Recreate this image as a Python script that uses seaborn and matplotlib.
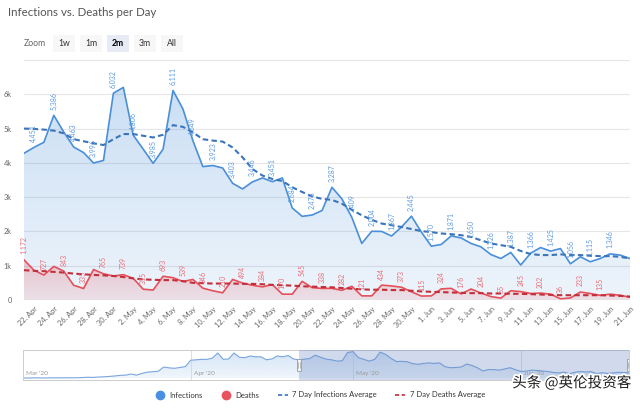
import matplotlib
matplotlib.use("Agg")
import matplotlib.colors as mcolors
import matplotlib.dates as mdates
import matplotlib.patheffects as pe
import matplotlib.pyplot as plt
import numpy as np
import pandas as pd
import seaborn as sns
from matplotlib.lines import Line2D
from matplotlib.patches import Rectangle

# Daily values, 21 Apr - 21 Jun 2020
start_date = "2020-04-21"
infections = [4280, 4451, 4600, 5386, 4900, 4463, 4300, 3996, 4070, 6032,
              6201, 4806, 4400, 3985, 4400, 6111, 5570, 4649, 3890, 3923,
              3850, 3403, 3240, 3446, 3560, 3451, 3560, 2684, 2440, 2478,
              2610, 3287, 2950, 2409, 1650, 2004, 2000, 1867, 2130, 2445,
              1980, 1570, 1620, 1871, 1810, 1650, 1550, 1326, 1210, 1387,
              1020, 1366, 1530, 1425, 1500, 1056, 1260, 1115, 1210, 1346,
              1310, 1210]
deaths = [1172, 870, 727, 980, 843, 430, 335, 890, 765, 700,
          739, 630, 315, 290, 693, 650, 539, 600, 346, 270,
          210, 600, 494, 430, 384, 450, 170, 170, 545, 360,
          338, 340, 282, 400, 121, 120, 434, 410, 373, 240,
          115, 120, 324, 340, 176, 320, 204, 100, 55, 270,
          245, 190, 202, 170, 36, 60, 233, 190, 135, 170,
          140, 80]
infections_avg = [5000, 4990, 4970, 4940, 4860, 4690, 4630, 4570, 4520, 4690,
                  4840, 4840, 4790, 4740, 4820, 5100, 5050, 4890, 4690, 4650,
                  4620, 4450, 4160, 3820, 3630, 3530, 3470, 3290, 3150, 3020,
                  2950, 2920, 2810, 2630, 2470, 2340, 2230, 2180, 2130, 2070,
                  2010, 1980, 1940, 1920, 1890, 1840, 1740, 1650, 1600, 1550,
                  1430, 1340, 1310, 1310, 1330, 1310, 1310, 1290, 1280, 1280,
                  1260, 1210]
deaths_avg = [870, 850, 840, 820, 800, 770, 750, 730, 720, 700,
              670, 630, 600, 590, 580, 580, 550, 500, 490, 480,
              480, 480, 470, 470, 460, 440, 430, 420, 400, 390,
              380, 370, 350, 330, 310, 300, 300, 290, 290, 270,
              250, 240, 230, 220, 210, 200, 200, 190, 190, 180,
              180, 170, 160, 150, 140, 140, 140, 140, 140, 130,
              120, 100]
# navigator history, 1 Mar - 20 Apr 2020
early_infections = [20, 15, 40, 50, 30, 50, 50, 60, 70, 60,
                    80, 120, 200, 150, 250, 300, 400, 500, 650, 700,
                    950, 700, 1100, 1400, 1500, 1600, 2600, 2400, 2300, 2500,
                    2700, 4200, 4300, 4400, 4400, 4700, 5900, 4400, 4500, 5900,
                    4900, 4800, 5200, 5000, 5000, 4300, 4500, 5200, 5000, 5300,
                    4500]
zoom_buttons = ["1w", "1m", "2m", "3m", "All"]
selected_button = "2m"
legend_labels = ["Infections", "Deaths", "7 Day Infections Average",
                 "7 Day Deaths Average"]
month_labels = ["Mar '20", "Apr '20", "May '20", "Jun '20"]

BLUE = "#4a8fd9"
BLUE_AVG = "#3a74bb"
BLUE_TXT = "#5d9be0"
RED = "#e5505b"
RED_AVG = "#c22f3a"
RED_TXT = "#ea6f78"
GRID = "#e6e6e6"
TXT = "#666666"

sns.set_style("white")
plt.rcParams["font.family"] = ["Lato", "DejaVu Sans"]

dates = pd.date_range(start_date, periods=len(infections), freq="D")
df = pd.DataFrame({"date": dates, "infections": infections, "deaths": deaths,
                   "inf_avg": infections_avg, "death_avg": deaths_avg})


def gradient_fill(ax, x, y, color, a_top, a_bottom, ymax, zorder):
    poly = ax.fill_between(x, y, 0, color="none", lw=0)
    img = np.zeros((256, 1, 4))
    img[..., :3] = mcolors.to_rgb(color)
    img[:, 0, 3] = np.linspace(a_bottom, a_top, 256)
    xn = mdates.date2num(x)
    im = ax.imshow(img, aspect="auto", origin="lower", zorder=zorder,
                   extent=[xn[0], xn[-1], 0, ymax], interpolation="bilinear")
    im.set_clip_path(poly.get_paths()[0], transform=ax.transData)


fig = plt.figure(figsize=(6.4, 4.08), dpi=100)
W, H = 640, 408

# ---- main chart
ax = fig.add_axes([24 / W, 1 - 300 / H, 606 / W, 240 / H])
for v in range(0, 8000, 1000):
    ax.axhline(v, color=GRID, lw=0.8, zorder=0)

gradient_fill(ax, df["date"], df["infections"], BLUE, 0.30, 0.10, 6500, 1)
gradient_fill(ax, df["date"], df["deaths"], RED, 0.30, 0.12, 1300, 2)

sns.lineplot(data=df, x="date", y="infections", ax=ax, color=BLUE, lw=1.2,
             zorder=3)
sns.lineplot(data=df, x="date", y="deaths", ax=ax, color=RED, lw=1.2, zorder=3)
sns.lineplot(data=df, x="date", y="inf_avg", ax=ax, color=BLUE_AVG, lw=1.5,
             linestyle=(0, (2.6, 1.6)), zorder=4)
sns.lineplot(data=df, x="date", y="death_avg", ax=ax, color=RED_AVG, lw=1.5,
             linestyle=(0, (2.6, 1.6)), zorder=4)

# data labels: infections on odd days, deaths on even days (last two hidden)
for i in range(len(dates) - 2):
    if i % 2 == 1:
        val, col = infections[i], BLUE_TXT
    else:
        val, col = deaths[i], RED_TXT
    ax.annotate(f"{val:,}", (dates[i], val), xytext=(0, 4),
                textcoords="offset points", rotation=90, ha="center",
                va="bottom", fontsize=5, color=col, zorder=5)

ax.set_xlim(dates[0], dates[-1])
ax.set_ylim(0, 7000)
ax.set_xlabel("")
ax.set_ylabel("")
tick_dates = dates[1::2]
ax.set_xticks(tick_dates)
ax.set_xticklabels([f"{d.day}. {d:%b}" for d in tick_dates], rotation=45,
                   ha="right", rotation_mode="anchor", fontsize=5.3,
                   color=TXT)
ax.set_yticks(range(0, 8000, 1000))
ax.set_yticklabels(["0"] + [f"{k}k" for k in range(1, 7)] + [""],
                   fontsize=5.3, color=TXT)
ax.tick_params(axis="x", length=0, pad=4)
ax.tick_params(axis="y", length=0, pad=9)
for s in ax.spines.values():
    s.set_visible(False)
ax.patch.set_alpha(0)

# ---- navigator
nav_dates = pd.date_range("2020-03-01", periods=len(early_infections) + len(infections), freq="D")
nav_df = pd.DataFrame({"date": nav_dates, "val": early_infections + infections})
nav = fig.add_axes([23 / W, 1 - 380 / H, 606 / W, 30 / H])
gradient_fill(nav, nav_df["date"], nav_df["val"], BLUE, 0.25, 0.08, 6500, 1)
sns.lineplot(data=nav_df, x="date", y="val", ax=nav, color="#7aa6dc", lw=0.8,
             zorder=2)
nav.axvspan(dates[0], dates[-1], color=(102 / 255, 133 / 255, 194 / 255, 0.3),
            lw=0, zorder=3)
month_starts = pd.to_datetime(["2020-03-01", "2020-04-01", "2020-05-01",
                               "2020-06-01"])
for m, lab in zip(month_starts, month_labels):
    if m != month_starts[0]:
        nav.axvline(m, color="#d8d8d8", lw=0.6, zorder=1)
    nav.text(m + pd.Timedelta(days=0.6), 0.13, lab, transform=nav.get_xaxis_transform(),
             fontsize=4.6, color="#999999", va="bottom", zorder=4)
nav.set_xlim(nav_dates[0], nav_dates[-1])
nav.set_ylim(-450, 6600)
nav.set_xticks([])
nav.set_yticks([])
nav.set_xlabel("")
nav.set_ylabel("")
for s in nav.spines.values():
    s.set_color("#cccccc")
    s.set_linewidth(0.7)
for h in [dates[0], dates[-1]]:
    hx = mdates.date2num(h)
    nav.add_patch(Rectangle((hx - 0.45, 0.3), 0.9, 0.4, facecolor="#f2f2f2",
                            edgecolor="#999999", lw=0.6, zorder=5,
                            transform=nav.get_xaxis_transform()))
    for off in (-0.15, 0.15):
        nav.plot([hx + off, hx + off], [0.4, 0.6], color="#999999", lw=0.4,
                 zorder=6, transform=nav.get_xaxis_transform())

# ---- title and zoom buttons
fig.text(8 / W, 1 - 13 / H, "Infections vs. Deaths per Day", fontsize=8.3,
         color="#555555", va="center")
fig.text(24 / W, 1 - 43 / H, "Zoom", fontsize=6.2, color=TXT, va="center")
bx = [53, 80, 107, 134, 161]
for x0, lab in zip(bx, zoom_buttons):
    sel = lab == selected_button
    fig.add_artist(Rectangle((x0 / W, 1 - 52 / H), 22 / W, 17 / H,
                             transform=fig.transFigure, lw=0,
                             facecolor="#e6ebf5" if sel else "#f7f7f7"))
    fig.text((x0 + 11) / W, 1 - 43.5 / H, lab, fontsize=6.2, ha="center",
             va="center", color="#000000" if sel else "#333333",
             fontweight="bold" if sel else "normal")

# ---- legend
handles = [Line2D([], [], marker="o", ls="none", color="#4a90e2", ms=6),
           Line2D([], [], marker="o", ls="none", color="#e8545e", ms=6),
           Line2D([], [], color=BLUE_AVG, lw=1.2, ls=(0, (2.5, 1.5))),
           Line2D([], [], color=RED_AVG, lw=1.2, ls=(0, (2.5, 1.5)))]
fig.legend(handles, legend_labels, loc="center",
           bbox_to_anchor=(320 / W, 1 - 395 / H), ncol=4, frameon=False,
           fontsize=5.5, handlelength=1.3, handletextpad=0.6,
           columnspacing=2.4, labelcolor="#333333")

# ---- watermark
fig.text(572 / W, 1 - 383 / H, "头条 @英伦投资客", ha="center", va="center",
         fontsize=10.5, color="#1e1e1e",
         family=["Noto Sans CJK SC", "DejaVu Sans"],
         path_effects=[pe.withStroke(linewidth=2.5, foreground="white")])

fig.savefig("out.png", dpi=100)
